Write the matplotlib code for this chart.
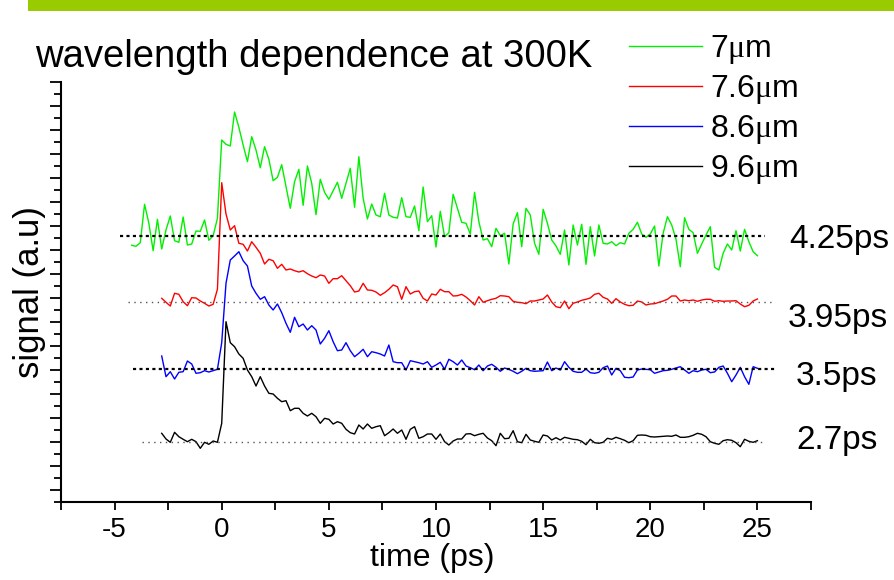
import matplotlib
matplotlib.use("Agg")
import matplotlib.pyplot as plt
from matplotlib.patches import Rectangle

plt.rcParams['font.family'] = 'Liberation Sans'
plt.rcParams['mathtext.fontset'] = 'custom'
plt.rcParams['mathtext.rm'] = 'Liberation Serif'
plt.rcParams['axes.unicode_minus'] = False

# time axis of the scan (ps)
time = [-4.2, -4.0, -3.8, -3.6, -3.4, -3.2, -3.0, -2.8, -2.6, -2.4,
        -2.2, -2.0, -1.8, -1.6, -1.4, -1.2, -1.0, -0.8, -0.6, -0.4,
        -0.2, 0.0, 0.2, 0.4, 0.6, 0.8, 1.0, 1.2, 1.4, 1.6,
        1.8, 2.0, 2.2, 2.4, 2.6, 2.8, 3.0, 3.2, 3.4, 3.6,
        3.8, 4.0, 4.2, 4.4, 4.6, 4.8, 5.0, 5.2, 5.4, 5.6,
        5.8, 6.0, 6.2, 6.4, 6.6, 6.8, 7.0, 7.2, 7.4, 7.6,
        7.8, 8.0, 8.2, 8.4, 8.6, 8.8, 9.0, 9.2, 9.4, 9.6,
        9.8, 10.0, 10.2, 10.4, 10.6, 10.8, 11.0, 11.2, 11.4, 11.6,
        11.8, 12.0, 12.2, 12.4, 12.6, 12.8, 13.0, 13.2, 13.4, 13.6,
        13.8, 14.0, 14.2, 14.4, 14.6, 14.8, 15.0, 15.2, 15.4, 15.6,
        15.8, 16.0, 16.2, 16.4, 16.6, 16.8, 17.0, 17.2, 17.4, 17.6,
        17.8, 18.0, 18.2, 18.4, 18.6, 18.8, 19.0, 19.2, 19.4, 19.6,
        19.8, 20.0, 20.2, 20.4, 20.6, 20.8, 21.0, 21.2, 21.4, 21.6,
        21.8, 22.0, 22.2, 22.4, 22.6, 22.8, 23.0, 23.2, 23.4, 23.6,
        23.8, 24.0, 24.2, 24.4, 24.6, 24.8, 25.0]

# signals, already offset for display (a.u.)
sig_7um = [256.7, 255.7, 259.3, 297.7, 278.7, 251.3, 282.7, 253.0, 272.0, 286.0,
           261.3, 259.7, 285.0, 257.0, 258.0, 271.0, 270.7, 282.0, 261.7, 266.3,
           283.7, 362.0, 357.7, 356.0, 390.0, 374.7, 357.0, 340.3, 365.3, 352.0,
           334.3, 355.3, 342.7, 321.3, 324.7, 337.3, 315.3, 293.7, 320.3, 332.7,
           296.7, 336.0, 318.7, 287.3, 322.7, 309.7, 302.7, 311.3, 319.7, 303.7,
           318.7, 333.7, 294.7, 345.3, 303.7, 283.0, 298.0, 287.0, 285.3, 308.7,
           287.0, 284.7, 284.0, 304.3, 285.3, 284.7, 296.0, 271.3, 315.0, 280.3,
           286.3, 255.0, 290.7, 265.3, 269.3,
           307.7, 293.7, 279.7, 278.7, 268.0, 309.7, 280.3, 262.0, 263.3, 255.3,
           273.7, 266.3, 268.7, 238.0, 278.0, 289.3, 255.3, 293.7, 287.0, 258.7,
           247.7, 292.7, 278.7, 262.0, 256.0, 247.7, 272.0, 237.0, 277.0, 257.0,
           277.7, 237.7, 275.3, 246.0, 277.0, 258.7, 258.0, 260.3, 256.3, 259.3,
           258.0, 268.7, 272.7, 279.7, 268.0, 264.7, 268.0, 276.0, 236.0, 268.7,
           285.3, 277.0, 262.7, 235.3, 284.3, 272.7, 269.3, 248.7, 258.0, 267.0,
           275.3, 234.7, 232.0, 248.7, 258.0, 252.0, 271.3, 251.0, 272.7, 260.3,
           250.3, 246.3]

sig_76um = [203.7, 199.7, 196.0, 208.7, 207.7, 200.3, 196.3, 204.3, 204.0, 201.0,
            198.7, 196.0, 197.7, 212.7, 319.3, 288.0, 272.0, 276.3, 258.7, 257.7,
            251.0, 260.3, 254.7, 248.7, 238.0, 242.7, 241.3, 233.7, 237.7, 232.0,
            233.0, 231.3, 230.0, 231.3, 228.3, 226.0, 224.3, 227.0, 226.0, 218.7,
            223.3, 223.3, 226.3, 221.3, 216.3, 210.0, 211.0, 218.7, 212.0, 211.7,
            210.0, 206.7, 209.3, 212.7, 217.0, 215.3, 202.7, 215.3, 208.0, 210.3,
            211.0, 203.7, 201.0, 208.0, 207.0, 212.7, 210.3, 210.3,
            206.0, 206.3, 207.7, 205.0, 201.3, 197.0, 205.3, 199.7, 201.3, 202.7,
            203.7, 206.3, 206.0, 205.3, 200.7, 199.7, 199.3, 198.3, 201.0, 201.0,
            202.0, 203.0, 207.0, 200.0, 195.3, 194.3, 201.0, 193.3, 198.7, 200.0,
            201.7, 202.7, 204.0, 207.7, 208.7, 204.7, 203.0, 198.7, 203.3, 200.0,
            197.7, 196.3, 196.7, 201.0, 200.0, 197.0, 198.0, 198.3, 199.7, 201.0,
            202.7, 206.0, 206.0, 201.0, 202.0, 201.3, 202.0, 200.7, 202.0, 202.7,
            202.7, 200.7, 201.3, 200.7, 201.0, 201.0, 201.3, 198.0, 195.3, 196.7,
            201.0, 203.0]

sig_86um = [146.0, 125.3, 130.3, 123.0, 129.7, 130.3, 141.0, 138.0, 128.7, 129.3,
            131.3, 130.0, 131.3, 132.7,
            159.3, 218.7, 242.0, 246.0, 250.3, 241.3, 236.0, 216.0, 208.7, 202.7,
            205.3, 197.0, 192.0, 198.0, 189.3, 178.7, 169.7, 184.7, 175.3, 178.0,
            172.0, 176.3, 172.0, 158.0, 163.7, 171.3, 160.3, 151.3, 152.0, 159.3,
            151.3, 145.3, 148.7, 152.7, 145.3, 150.3, 149.3, 148.0, 146.0, 157.0,
            140.3, 139.3, 139.3, 132.0, 141.3, 140.3, 139.3, 138.0, 140.3, 134.7,
            137.0, 139.7, 132.7, 142.7,
            140.3, 137.0, 142.0, 136.0, 134.3, 132.3, 137.0, 131.3, 136.0, 137.7,
            134.7, 130.7, 134.0, 132.7, 130.7, 128.3, 130.7, 133.7, 131.3, 130.7,
            131.0, 131.3, 140.0, 131.3, 134.0, 132.0, 140.3, 134.7, 130.7, 129.7,
            129.7, 133.0, 129.3, 128.7, 129.7, 134.3, 136.0, 127.0, 133.7, 131.3,
            124.7, 124.3, 125.0, 132.0, 133.0, 132.7, 132.3, 128.7, 130.0, 131.3,
            131.7, 132.7, 134.0, 135.3, 132.0, 128.7, 131.3, 130.3, 132.0, 132.7,
            129.3, 130.0, 134.7, 136.0, 128.7, 120.3, 127.0, 134.7, 125.3, 117.7,
            135.3, 133.7]

sig_96um = [68.7, 63.0, 59.7, 69.7, 65.3, 62.7, 60.3, 62.7, 60.3, 53.7,
            59.7, 57.7, 61.0, 59.7,
            78.7, 180.3, 159.3, 155.3, 148.0, 143.7, 132.0, 125.3, 116.0, 125.3,
            116.0, 108.7, 108.0, 103.7, 100.3, 101.3, 91.3, 93.7, 93.7, 88.7,
            86.0, 88.7, 85.3, 78.7, 83.7, 82.7, 78.0, 80.3, 78.7, 72.7,
            69.3, 68.0, 77.0, 73.0, 78.0, 73.7, 75.3, 76.3, 66.3, 69.3,
            73.0, 68.7, 72.0, 62.7, 72.7, 75.3, 63.7, 65.3, 68.0, 68.0,
            62.7, 68.0, 60.3, 57.0,
            61.0, 63.0, 63.0, 68.0, 68.3, 66.3, 67.7, 68.7, 64.0, 61.3,
            56.3, 68.7, 63.3, 63.7, 71.3, 60.3, 59.3, 67.7, 62.0, 60.7,
            59.7, 67.0, 66.0, 62.0, 64.3, 62.0, 64.7, 63.7, 62.7, 62.3,
            60.7, 57.3, 62.7, 59.3, 58.7, 59.7, 63.7, 62.7, 64.7, 63.3,
            61.7, 59.3, 61.3, 66.7, 67.0, 66.7, 65.3, 65.0, 65.3, 65.7,
            66.0, 65.7, 67.0, 64.7, 64.7, 65.3, 66.7, 68.7, 67.7, 65.3,
            60.3, 58.7, 57.7, 61.3, 62.3, 61.7, 59.3, 55.3, 62.7, 60.7,
            59.7, 61.3]

labels = ['7$\\mathrm{\\mu}$m', '7.6$\\mathrm{\\mu}$m', '8.6$\\mathrm{\\mu}$m', '9.6$\\mathrm{\\mu}$m']
colors = ['#00f000', '#ff0000', '#0000ff', '#000000']

# baselines and decay times
base_level = [266.3, 200.3, 133.0, 60.3]
base_start = [-4.75, -4.36, -4.13, -3.7]
base_end = [25.36, 25.64, 25.93, 25.36]
tau_text = ['4.25ps', '3.95ps', '3.5ps', '2.7ps']

W, H = 895, 580
fig = plt.figure(figsize=(W / 100, H / 100), dpi=100)
fig.add_artist(Rectangle((28 / W, 1 - 11 / H), 1 - 28 / W, 11 / H,
                         transform=fig.transFigure, color='#99cc00', lw=0))

ax = fig.add_axes([61 / W, 78 / H, 750 / W, 420 / H])

series = [(time, sig_7um), (time[7:], sig_76um), (time[7:], sig_86um), (time[7:], sig_96um)]
for (t, s), c, lab in zip(series, colors, labels):
    ax.plot(t, s, color=c, lw=1.0, label=lab)

for i, lvl in enumerate(base_level):
    if i % 2 == 0:
        ax.hlines(lvl, base_start[i], base_end[i], colors='black', lw=1.6,
                  linestyles=(0, (1.4, 1.5)))
    else:
        ax.hlines(lvl, base_start[i], base_end[i], colors='#555555', lw=1.0,
                  linestyles=(0, (1, 3.2)))

ax.set_xlim(-7.5, 27.5)
ax.set_ylim(0, 420)
ax.set_xticks([-5, 0, 5, 10, 15, 20, 25])
ax.set_xticks([-7.5, -2.5, 2.5, 7.5, 12.5, 17.5, 22.5, 27.5], minor=True)
ax.set_yticks(list(range(420, 0, -24)))
ax.set_yticks(list(range(408, -1, -24)), minor=True)
ax.tick_params(axis='x', which='both', direction='out', length=6, width=1.3,
               labelsize=20, pad=5)
ax.tick_params(axis='y', which='major', direction='out', length=8, width=1.3, labelleft=False)
ax.tick_params(axis='y', which='minor', direction='out', length=5, width=1.3)
for sp in ['top', 'right']:
    ax.spines[sp].set_visible(False)
for sp in ['left', 'bottom']:
    ax.spines[sp].set_linewidth(1.5)

fig.text(35 / W, 1 - 57 / H, 'wavelength dependence at 300K', fontsize=27.5, va='center', ha='left')
fig.text(30 / W, 1 - 292 / H, 'signal (a.u)', fontsize=25, rotation=90, va='center', ha='center')
fig.text(432 / W, 1 - 558 / H, 'time (ps)', fontsize=23, va='center', ha='center')

tau_pos = [(789, 240), (788, 318), (796, 377), (796, 440)]
for (px, py), txt in zip(tau_pos, tau_text):
    fig.text(px / W, 1 - py / H, txt, fontsize=24, va='center', ha='left')

fig.legend(loc='upper left', bbox_to_anchor=(629 / W, 1 - 33 / H), frameon=False,
           fontsize=23, handlelength=2.3, handletextpad=0.25, labelspacing=0.22,
           borderpad=0, borderaxespad=0)

fig.savefig('out.png', dpi=100)
